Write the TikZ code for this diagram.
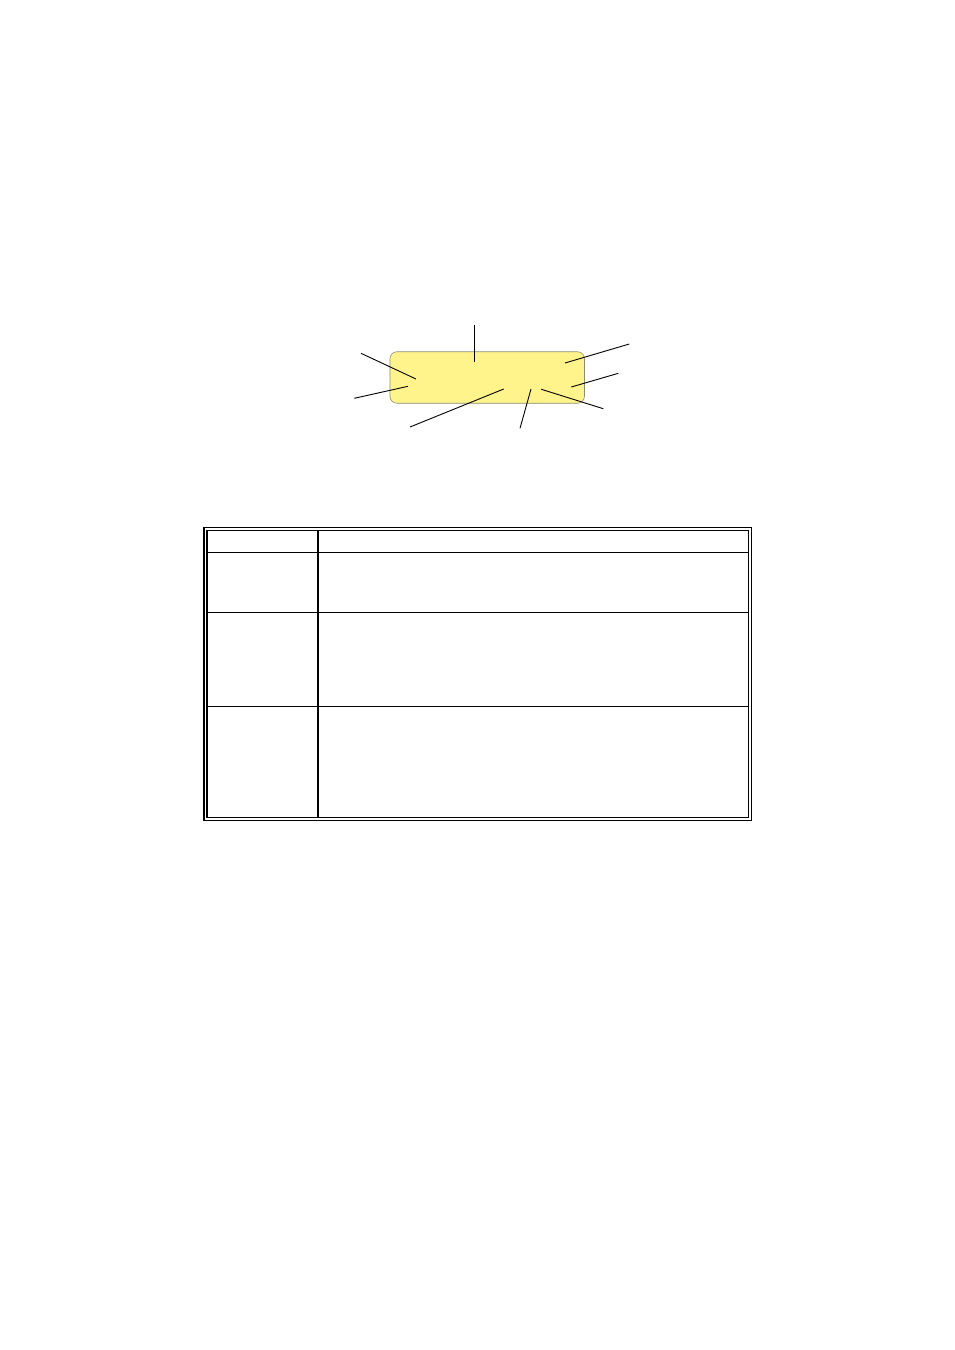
\documentclass[tikz,border=0pt]{standalone}
\definecolor{boxfill}{HTML}{FFF48C}
\definecolor{boxedge}{HTML}{8C8C70}
\begin{document}
\begin{tikzpicture}[x=1pt,y=-1pt,
  callout/.style={draw=black,line width=0.9pt},
  tabline/.style={draw=black,line width=1.2pt}]
\useasboundingbox (0,0) rectangle (954,1350);
% yellow box
\node[draw=boxedge,fill=boxfill,rounded corners=7pt,line width=0.6pt,minimum width=194.5pt,minimum height=51.5pt,inner sep=0pt] (box) at (487.2,377.5) {};
% callout lines
\coordinate (t1) at (474.3,325);   \coordinate (t2) at (474.3,361.7);
\coordinate (a1) at (361,353.3);   \coordinate (a2) at (416,379);
\coordinate (b1) at (354.3,398.3); \coordinate (b2) at (408,386.3);
\coordinate (c1) at (410,427);     \coordinate (c2) at (503.7,389);
\coordinate (d1) at (520,428.3);   \coordinate (d2) at (531,389);
\coordinate (e1) at (629.3,344);   \coordinate (e2) at (565,363);
\coordinate (f1) at (618.3,373.3); \coordinate (f2) at (571.3,387);
\coordinate (g1) at (603.3,408.7); \coordinate (g2) at (541.3,389.3);
\draw[callout] (t1) -- (t2);
\draw[callout] (a1) -- (a2);
\draw[callout] (b1) -- (b2);
\draw[callout] (c1) -- (c2);
\draw[callout] (d1) -- (d2);
\draw[callout] (e1) -- (e2);
\draw[callout] (f1) -- (f2);
\draw[callout] (g1) -- (g2);
% table
\coordinate (o1) at (204,527.5); \coordinate (o2) at (751.3,820.3);
\coordinate (i1) at (207,530.5); \coordinate (i2) at (748.3,817.3);
\draw[tabline] (o1) rectangle (o2);
\draw[tabline] (i1) rectangle (i2);
\coordinate (r1l) at (207,552.3); \coordinate (r1r) at (748.3,552.3);
\coordinate (r2l) at (207,612.3); \coordinate (r2r) at (748.3,612.3);
\coordinate (r3l) at (207,706.3); \coordinate (r3r) at (748.3,706.3);
\coordinate (ct) at (318,530.5);  \coordinate (cb) at (318,817.3);
\draw[tabline] (r1l) -- (r1r);
\draw[tabline] (r2l) -- (r2r);
\draw[tabline] (r3l) -- (r3r);
\draw[tabline] (ct) -- (cb);
\end{tikzpicture}
\end{document}
